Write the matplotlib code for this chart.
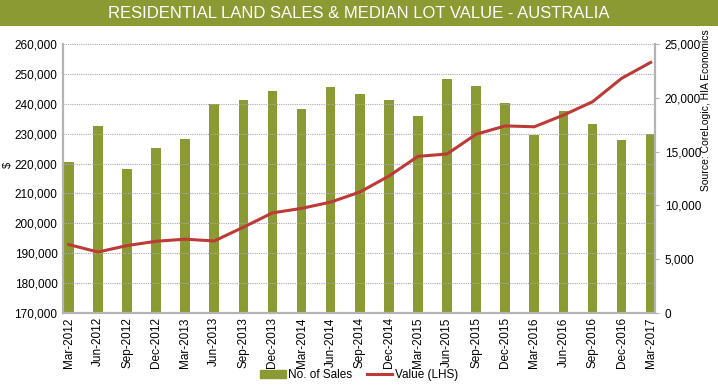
import matplotlib.pyplot as plt
import matplotlib.patches as mpatches
from matplotlib.lines import Line2D
from matplotlib.ticker import FuncFormatter

plt.rcParams['font.family'] = ['Liberation Sans Narrow', 'Liberation Sans', 'DejaVu Sans']

# Data
quarters = ['Mar-2012', 'Jun-2012', 'Sep-2012', 'Dec-2012', 'Mar-2013', 'Jun-2013',
            'Sep-2013', 'Dec-2013', 'Mar-2014', 'Jun-2014', 'Sep-2014', 'Dec-2014',
            'Mar-2015', 'Jun-2015', 'Sep-2015', 'Dec-2015', 'Mar-2016', 'Jun-2016',
            'Sep-2016', 'Dec-2016', 'Mar-2017']
sales = [14000, 17350, 13400, 15350, 16150, 19400, 19800, 20600, 18980, 20960,
         20320, 19840, 18310, 21720, 21090, 19500, 16530, 18750, 17590, 16060, 16660]
lot_value = [192900, 190400, 192550, 194000, 194700, 194100, 198700, 203500, 205000,
             207100, 210450, 215800, 222400, 223200, 229800, 232600, 232300, 236200,
             240650, 248500, 253850]

bar_color = '#8c9a34'
line_color = '#bd3a36'
spine_color = '#b3b3b3'

fig = plt.figure(figsize=(7.18, 3.89), dpi=100)

# Title banner
fig.patches.append(mpatches.Rectangle((0, 1 - 26 / 389), 1, 26 / 389, transform=fig.transFigure,
                                      facecolor=bar_color, edgecolor='none'))
fig.text(0.5, 1 - 13 / 389, 'RESIDENTIAL LAND SALES & MEDIAN LOT VALUE - AUSTRALIA',
         color='white', fontsize=12, ha='center', va='center')

ax = fig.add_axes([63 / 718, 1 - 313 / 389, 592 / 718, 269 / 389])
ax2 = ax.twinx()

x = list(range(len(quarters)))

# Bars on the right axis, line on the left axis
ax2.bar(x, sales, width=0.33, color=bar_color, zorder=2)
ax2.set_ylim(0, 25000)
ax2.set_yticks(range(0, 25001, 5000))
ax2.yaxis.set_major_formatter(FuncFormatter(lambda v, p: f'{int(v):,}'))

ax.plot(x, lot_value, color=line_color, linewidth=2.2, zorder=5)
ax.set_ylim(170000, 260000)
ax.set_yticks(range(170000, 260001, 10000))
ax.yaxis.set_major_formatter(FuncFormatter(lambda v, p: f'{int(v):,}'))
ax.set_xlim(-0.2, 20.15)
ax.set_xticks(x)
ax.set_xticklabels(quarters, rotation=90, fontsize=8.5)
ax.grid(axis='y', color='#aaaaaa', linestyle=(0, (1, 1)), linewidth=0.8)
ax.set_axisbelow(True)

# line above bars
ax.set_zorder(ax2.get_zorder() + 1)
ax.patch.set_visible(False)

for a in (ax, ax2):
    a.spines['top'].set_visible(False)
    for s in ('left', 'right', 'bottom'):
        a.spines[s].set_color(spine_color)
        a.spines[s].set_linewidth(1.5)
    a.tick_params(axis='y', labelsize=8.5, length=0, pad=4)
ax.tick_params(axis='x', length=0, pad=3)
ax2.tick_params(axis='y', length=3, color=spine_color, pad=4)

fig.text(8 / 718, 1 - 165 / 389, '$', rotation=90, fontsize=8, ha='center', va='center')
fig.text(706 / 718, 1 - 110 / 389, 'Source: CoreLogic, HIA Economics', rotation=90,
         fontsize=7.5, ha='center', va='center')

handles = [mpatches.Patch(color=bar_color, label='No. of Sales'),
           Line2D([0], [0], color=line_color, linewidth=2.2, label='Value (LHS)')]
fig.legend(handles=handles, loc='center', bbox_to_anchor=(0.5, 1 - 375 / 389), ncol=2,
           frameon=False, fontsize=8.5, handlelength=2.2, handletextpad=0.2, columnspacing=1.2)

fig.savefig('out.png', dpi=100)
